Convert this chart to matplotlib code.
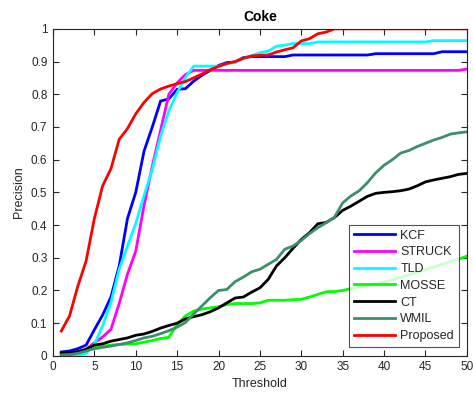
import numpy as np
import matplotlib
matplotlib.use("Agg")
import matplotlib.pyplot as plt

plt.rcParams['font.family'] = ['Liberation Sans', 'DejaVu Sans']

thresholds = list(range(1, 51))

kcf = [0.012, 0.015, 0.022, 0.033, 0.080, 0.125, 0.180, 0.275, 0.420, 0.500,
       0.626, 0.700, 0.779, 0.786, 0.815, 0.817, 0.840, 0.858, 0.873, 0.888,
       0.897, 0.898, 0.912, 0.915, 0.915, 0.915, 0.915, 0.915, 0.920, 0.920,
       0.920, 0.920, 0.920, 0.920, 0.920, 0.920, 0.920, 0.920, 0.924, 0.924,
       0.924, 0.924, 0.924, 0.924, 0.924, 0.924, 0.930, 0.930, 0.930, 0.930]

struck = [0.005, 0.008, 0.012, 0.020, 0.040, 0.058, 0.081, 0.160, 0.250, 0.320,
          0.460, 0.580, 0.690, 0.800, 0.835, 0.860, 0.873, 0.873, 0.873, 0.873,
          0.873, 0.873, 0.873, 0.873, 0.873, 0.873, 0.873, 0.873, 0.873, 0.873,
          0.873, 0.873, 0.873, 0.873, 0.873, 0.873, 0.873, 0.873, 0.873, 0.873,
          0.873, 0.873, 0.873, 0.873, 0.873, 0.873, 0.873, 0.873, 0.873, 0.877]

tld = [0.000, 0.000, 0.002, 0.008, 0.035, 0.092, 0.163, 0.265, 0.336, 0.405,
       0.490, 0.570, 0.672, 0.749, 0.805, 0.851, 0.886, 0.886, 0.886, 0.886,
       0.893, 0.897, 0.909, 0.918, 0.927, 0.932, 0.947, 0.950, 0.955, 0.955,
       0.955, 0.960, 0.960, 0.960, 0.960, 0.960, 0.960, 0.960, 0.960, 0.960,
       0.960, 0.960, 0.960, 0.960, 0.960, 0.964, 0.964, 0.964, 0.964, 0.964]

mosse = [0.003, 0.006, 0.010, 0.017, 0.025, 0.030, 0.033, 0.035, 0.036, 0.037,
         0.042, 0.047, 0.053, 0.057, 0.096, 0.122, 0.137, 0.143, 0.147, 0.150,
         0.157, 0.160, 0.160, 0.160, 0.162, 0.170, 0.170, 0.170, 0.172, 0.173,
         0.180, 0.188, 0.196, 0.197, 0.200, 0.206, 0.210, 0.215, 0.220, 0.226,
         0.233, 0.240, 0.248, 0.256, 0.264, 0.272, 0.280, 0.288, 0.296, 0.305]

ct = [0.008, 0.010, 0.013, 0.020, 0.033, 0.037, 0.045, 0.050, 0.055, 0.063,
      0.067, 0.075, 0.085, 0.093, 0.100, 0.113, 0.120, 0.126, 0.135, 0.147,
      0.162, 0.177, 0.180, 0.195, 0.208, 0.234, 0.275, 0.300, 0.329, 0.356,
      0.377, 0.404, 0.408, 0.423, 0.445, 0.458, 0.473, 0.488, 0.497, 0.500,
      0.502, 0.505, 0.510, 0.520, 0.532, 0.538, 0.543, 0.548, 0.555, 0.558]

wmil = [0.003, 0.004, 0.008, 0.015, 0.022, 0.026, 0.030, 0.035, 0.040, 0.047,
        0.055, 0.060, 0.068, 0.077, 0.088, 0.102, 0.128, 0.153, 0.178, 0.200,
        0.203, 0.227, 0.241, 0.257, 0.265, 0.280, 0.295, 0.326, 0.336, 0.353,
        0.374, 0.392, 0.407, 0.424, 0.468, 0.489, 0.505, 0.530, 0.560, 0.583,
        0.600, 0.620, 0.628, 0.640, 0.650, 0.660, 0.668, 0.678, 0.682, 0.685]

proposed = [0.076, 0.122, 0.213, 0.290, 0.420, 0.520, 0.572, 0.662, 0.695, 0.740,
            0.775, 0.802, 0.816, 0.825, 0.832, 0.839, 0.850, 0.862, 0.875, 0.885,
            0.894, 0.900, 0.910, 0.917, 0.919, 0.920, 0.929, 0.936, 0.942, 0.963,
            0.970, 0.985, 0.990, 1.000, 1.000, 1.000, 1.000, 1.000, 1.000, 1.000,
            1.000, 1.000, 1.000, 1.000, 1.000, 1.000, 1.000, 1.000, 1.000, 1.000]

series = [
    ("KCF", kcf, "#0000ff"),
    ("STRUCK", struck, "#ff00ff"),
    ("TLD", tld, "#00ffff"),
    ("MOSSE", mosse, "#00ff00"),
    ("CT", ct, "#000000"),
    ("WMIL", wmil, "#3d8f6a"),
    ("Proposed", proposed, "#ff0000"),
]

xticks = list(range(0, 51, 5))
yticks = [0, 0.1, 0.2, 0.3, 0.4, 0.5, 0.6, 0.7, 0.8, 0.9, 1]
ytick_labels = ["0", "0.1", "0.2", "0.3", "0.4", "0.5", "0.6", "0.7", "0.8", "0.9", "1"]

fig = plt.figure(figsize=(4.73, 3.95), dpi=100)
ax = fig.add_axes([0.112, 0.099, 0.875, 0.828])

for name, vals, color in series:
    ax.plot(thresholds, vals, color=color, lw=2.0, label=name,
            solid_joinstyle='miter')

ax.set_xlim(0, 50)
ax.set_ylim(0, 1)
ax.set_xticks(xticks)
ax.set_yticks(yticks)
ax.set_yticklabels(ytick_labels)

edge = "#262626"
for s in ax.spines.values():
    s.set_color(edge)
    s.set_linewidth(0.8)
ax.tick_params(direction='in', length=4, width=0.8, colors=edge,
               labelsize=8.5, top=True, right=True, labeltop=False,
               labelright=False, pad=4)

ax.set_xlabel("Threshold", fontsize=9, color=edge, labelpad=3)
ax.set_ylabel("Precision", fontsize=9, color=edge, labelpad=4)
ax.set_title("Coke", fontsize=10, fontweight='bold', color='black', pad=6)

leg = ax.legend(loc='lower right', bbox_to_anchor=(0.981, 0.027),
                fontsize=9, frameon=True, fancybox=False,
                edgecolor=edge, handlelength=3.3, handletextpad=0.4,
                labelspacing=0.38, borderpad=0.4, borderaxespad=0.0)
leg.get_frame().set_linewidth(0.8)
for t in leg.get_texts():
    t.set_color(edge)

fig.savefig("out.png", dpi=100)
